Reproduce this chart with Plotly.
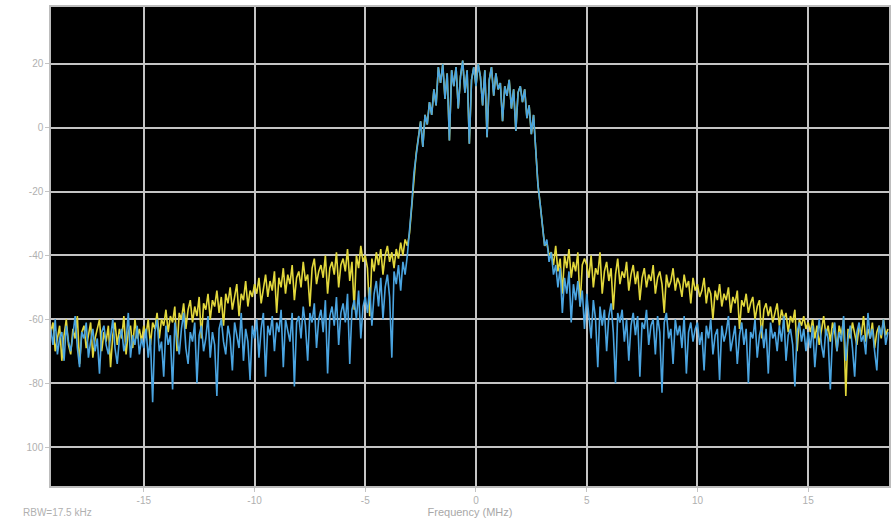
import numpy as np
import plotly.graph_objects as go

# Frequency grid (MHz): start and step of the sampled spectrum
f_start = -19.2
f_step = 0.1

# Trace levels (dB)
blue = [
    -63,-68,-60,-71,-66,-64,-73,-62,-67,-70,
    -65,-59,-69,-75,-64,-66,-61,-72,-67,-63,
    -70,-66,-77,-64,-62,-68,-71,-65,-60,-69,
    -74,-66,-63,-70,-67,-58,-72,-65,-68,-62,
    -71,-66,
    -69,-63,-72,-66,-86,-64,-60,-70,-67,-78,
    -62,-68,-65,-82,-61,-66,-71,-63,-58,-69,
    -74,-64,-67,-61,-80,-65,-62,-70,-66,-59,
    -72,-64,-68,-84,-63,-60,-67,-71,-62,-66,
    -76,-61,-65,-69,-58,-73,-63,-67,-79,-62,
    -66,-60,-72,-63,-58,-78,-62,-65,-59,-70,
    -61,-64,-57,-75,-60,-63,-67,-58,-81,-61,
    -59,-66,-56,-62,-73,-58,-61,-55,-69,-60,
    -57,-64,-54,-77,-59,-56,-62,-53,-68,-58,
    -55,-61,-52,-74,-57,-54,-60,-51,-66,-56,
    -53,-58,-50,-62,-52,-48,-56,-47,-60,-50,
    -46,-53,-72,-45,-49,-43,-51,-42,-46,-40,
    -33,-24,-14,-8,-3,2,-6,4,1,8,
    4,12,7,19,14,20,9,17,-4,18,
    13,19,6,16,21,11,18,-5,15,19,
    13,20,16,7,18,-3,15,19,10,17,
    12,14,2,13,10,15,6,12,-1,11,
    13,8,12,3,7,-2,4,-8,-18,-24,
    -30,-37,-35,-42,
    -39,-46,-43,-50,-44,-58,-47,-52,-45,-61,-49,-54,-48,-56,-51,-63,
    -52,-58,-66,-54,-60,-75,-56,-62,-57,-70,
    -59,-55,-64,-80,-58,-61,-57,-67,-60,-73,
    -62,-58,-65,-59,-78,-61,-63,-57,-68,-62,
    -60,-71,-59,-64,-83,-61,-58,-66,-63,-74,
    -60,-65,-62,-69,-59,-77,-64,-61,-67,-63,
    -61,-68,-64,-76,-62,-66,-60,-71,-65,-63,
    -79,-62,-67,-64,-59,-70,-66,-62,-74,-65,
    -61,-68,-63,-80,-64,-66,-60,-72,-65,-62,
    -69,-63,-77,-61,-66,-64,-70,-62,-67,-59,
    -73,-65,-63,-68,-81,-64,-61,-67,-63,-70,
    -64,-69,-62,-75,-66,-60,-68,-72,-63,-66,
    -82,-65,-61,-70,-64,-67,-59,-73,-66,-62,
    -69,-78,-64,-61,-67,-65,-71,-58,-66,-63,
    -70,-76,-62,-65,-60,-68,-64,
]

yellow = [
    -64,-61,-70,-66,-62,-73,-65,-60,-68,-71,
    -63,-66,-59,-74,-64,-62,-69,-65,-61,-72,
    -66,-63,-60,-70,-64,-67,-62,-75,-65,-61,
    -68,-63,-66,-59,-71,-64,-62,-69,-60,-66,
    -63,-67,
    -62,-65,-60,-68,-61,-63,-58,-66,-60,-62,
    -57,-64,-59,-61,-56,-70,-58,-60,-55,-63,
    -57,-54,-61,-56,-59,-53,-66,-55,-57,-52,
    -60,-54,-56,-51,-58,-53,-62,-52,-55,-50,
    -57,-53,-49,-59,-52,-54,-48,-56,-51,-53,
    -49,-52,-47,-55,-50,-46,-53,-48,-51,-45,
    -58,-47,-50,-44,-52,-46,-49,-43,-54,-47,
    -45,-50,-42,-48,-46,-56,-44,-41,-49,-45,
    -43,-47,-40,-52,-44,-42,-46,-39,-50,-43,
    -41,-45,-38,-48,-42,-57,-40,-44,-37,-42,
    -40,-44,-59,-41,-45,-39,-43,-38,-46,-40,
    -37,-42,-39,-44,-38,-41,-36,-40,-35,-37,
    -33,-24,-14,-8,-3,2,-6,4,1,8,
    4,12,7,19,14,20,9,17,-4,18,
    13,19,6,16,21,11,18,-5,15,19,
    13,20,16,7,18,-3,15,19,10,17,
    12,14,2,13,10,15,6,12,-1,11,
    13,8,12,3,7,-2,4,-8,-18,-24,
    -30,-37,-36,-40,
    -39,-43,-37,-45,-41,-52,-40,-44,-38,-47,-42,-45,-39,-56,-43,-41,
    -43,-47,-40,-50,-44,-46,-39,-52,-45,-42,
    -48,-44,-57,-46,-41,-49,-45,-47,-42,-51,
    -46,-43,-49,-45,-54,-47,-44,-50,-46,-48,
    -43,-52,-47,-45,-49,-58,-46,-50,-48,-44,
    -51,-47,-49,-53,-46,-50,-48,-55,-47,-51,
    -49,-53,-51,-47,-55,-50,-52,-60,-51,-54,
    -49,-56,-52,-54,-50,-58,-53,-55,-51,-63,
    -54,-56,-52,-58,-55,-53,-60,-56,-54,-66,
    -57,-55,-59,-56,-61,-58,-55,-62,-57,-60,
    -58,-64,-59,-61,-57,-70,-60,-62,-59,-63,
    -61,-64,-60,-66,-62,-68,-63,-59,-65,-62,
    -67,-61,-64,-70,-62,-65,-60,-84,-63,-66,
    -61,-64,-68,-62,-65,-59,-67,-63,-66,-61,
    -69,-64,-62,-66,-60,-65,-63,
]

x_ticks = [-15, -10, -5, 0, 5, 10, 15]
x_ticklabels = ["-15", "-10", "-5", "0", "5", "10", "15"]
y_ticks = [20, 0, -20, -40, -60, -80, -100]
y_ticklabels = ["20", "0", "-20", "-40", "-60", "-80", "100"]

freq = f_start + f_step * np.arange(len(blue))

fig = go.Figure()
fig.add_trace(go.Scatter(x=freq, y=yellow, mode="lines",
                         line=dict(color="#e2d83c", width=1.6), showlegend=False))
fig.add_trace(go.Scatter(x=freq, y=blue, mode="lines",
                         line=dict(color="#4aa4e0", width=1.6), showlegend=False))

grid = "#c4c4c4"
tickfont = dict(family="Liberation Sans, Arial, sans-serif", size=10, color="#b0b0b0")

fig.update_layout(
    width=891, height=520,
    margin=dict(l=51, r=0, t=7, b=34),
    paper_bgcolor="white",
    plot_bgcolor="black",
    font=dict(family="Liberation Sans, Arial, sans-serif"),
    xaxis=dict(range=[-19.19, 18.65], tickvals=x_ticks, ticktext=x_ticklabels,
               showgrid=True, gridcolor=grid, gridwidth=2, zeroline=False,
               showline=True, linecolor="#bdbdbd", linewidth=1.5, mirror=True,
               ticks="outside", ticklen=4, tickcolor=grid, tickfont=tickfont,
               title=dict(text="Frequency (MHz)", standoff=4,
                          font=dict(size=11, color="#a8a8a8"))),
    yaxis=dict(range=[-112.2, 37.8], tickvals=y_ticks, ticktext=y_ticklabels,
               showgrid=True, gridcolor=grid, gridwidth=2, zeroline=False,
               showline=True, linecolor="#bdbdbd", linewidth=1.5, mirror=True,
               ticks="outside", ticklen=4, tickcolor=grid, tickfont=tickfont),
    annotations=[dict(text="RBW=17.5 kHz", xref="paper", yref="paper",
                      x=-0.036, y=-0.056, xanchor="left", yanchor="middle",
                      showarrow=False, font=dict(size=10, color="#b0b0b0"))],
)

fig.write_html("out.html", config={"displayModeBar": False},
               post_script="document.body.style.margin='0';")
